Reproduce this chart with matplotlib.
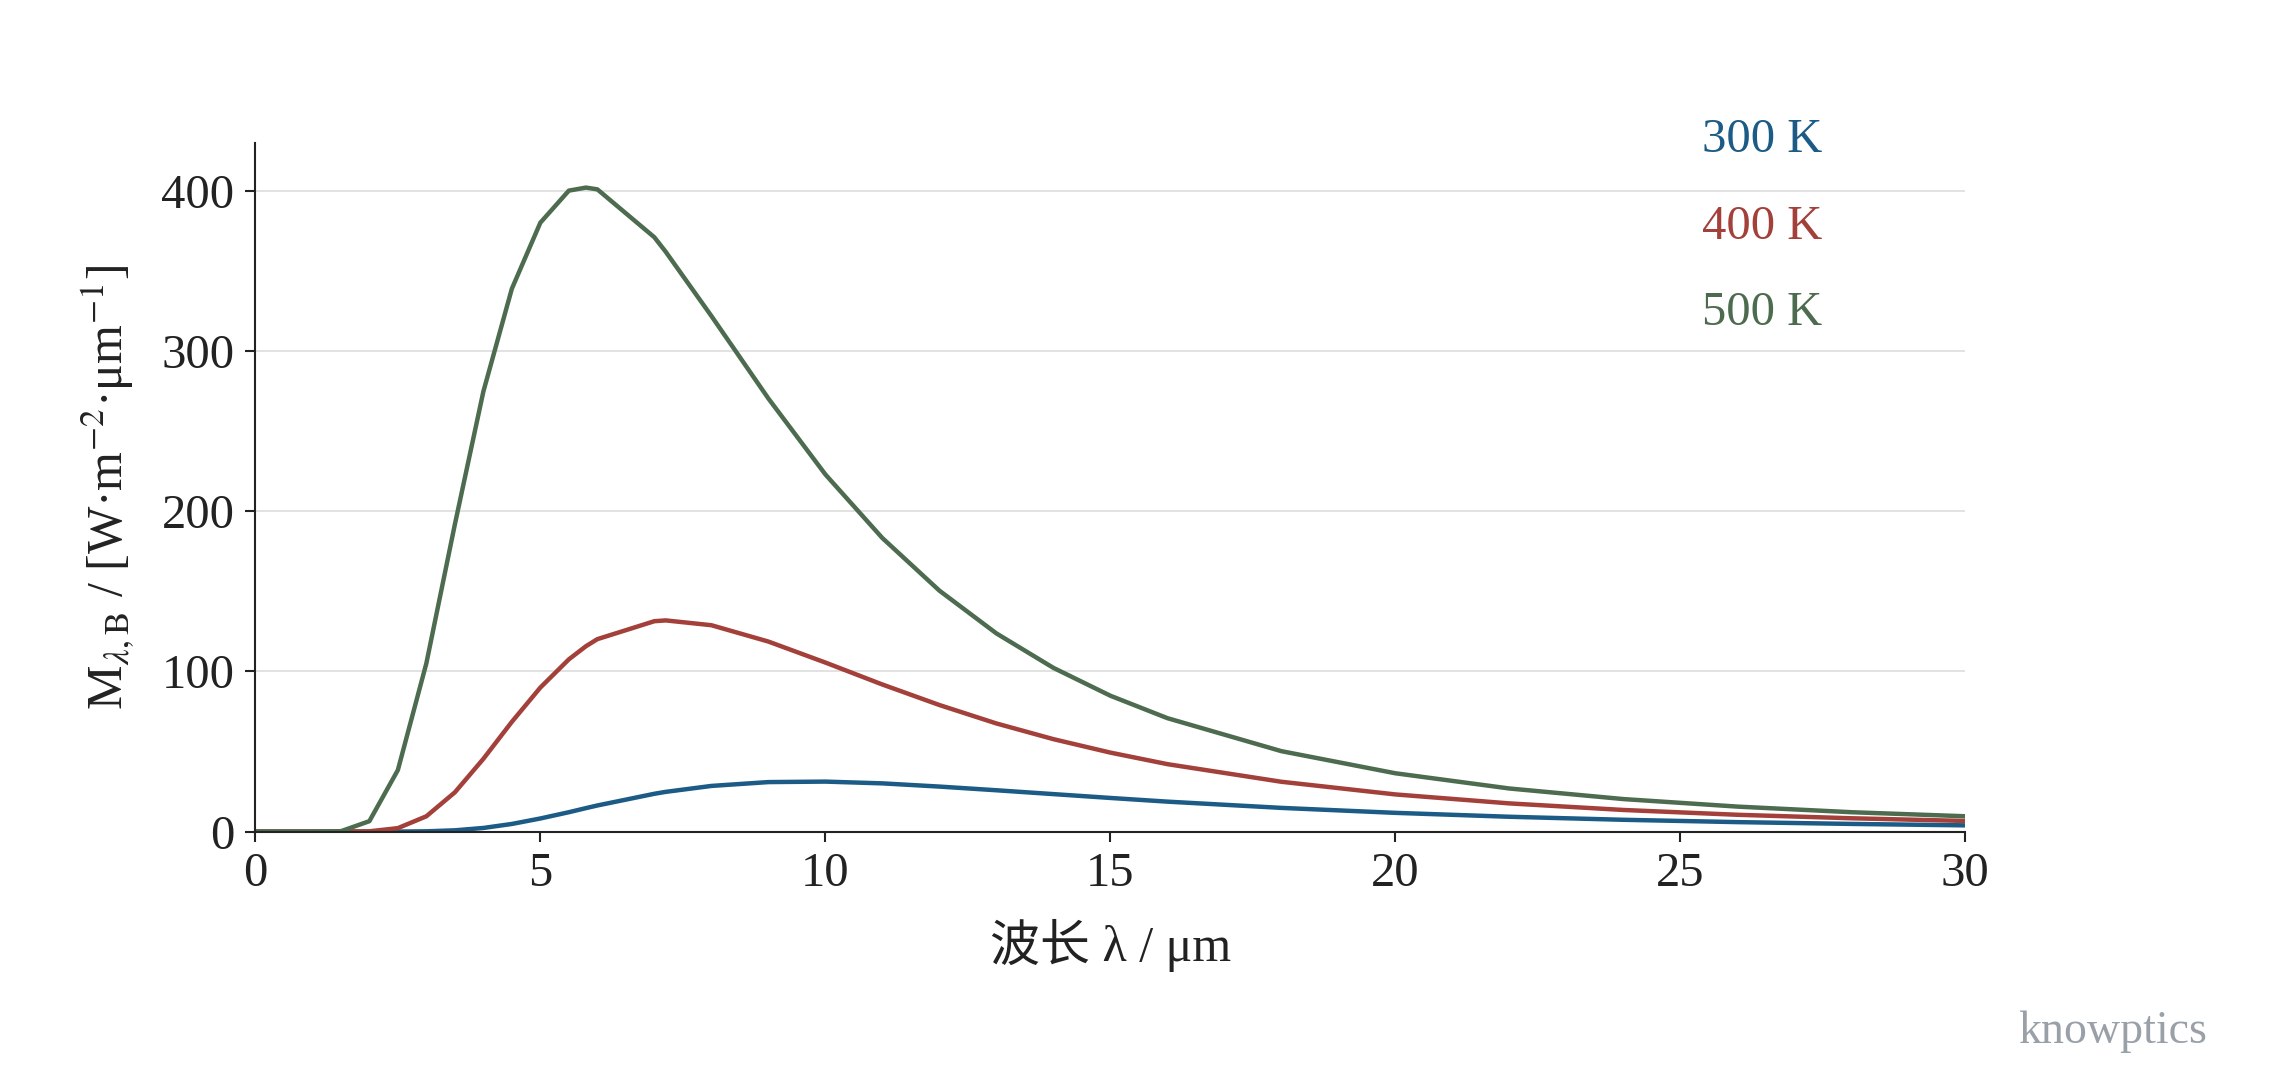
import matplotlib
matplotlib.use("Agg")
import matplotlib.pyplot as plt

wavelength = [0, 1, 1.5, 2, 2.5, 3, 3.5, 4, 4.5, 5, 5.5, 5.8, 6, 7, 7.2, 8, 9, 10, 11, 12, 13, 14, 15, 16, 18, 20, 22, 24, 26, 28, 30]
m_300K = [0, 0, 0, 0, 0.02, 0.18, 0.80, 2.27, 4.77, 8.19, 12.1, 14.65, 16.3, 23.6, 24.8, 28.5, 30.9, 31.2, 30.1, 28.1, 25.8, 23.4, 21.0, 18.7, 14.8, 11.7, 9.26, 7.37, 5.92, 4.79, 3.90]
m_400K = [0, 0, 0.002, 0.18, 2.16, 9.55, 24.5, 45.4, 68.5, 89.9, 107.5, 115.7, 120.1, 131.3, 131.8, 128.8, 118.6, 105.5, 91.8, 79.0, 67.5, 57.7, 49.3, 42.1, 31.1, 23.2, 17.6, 13.5, 10.5, 8.32, 6.65]
m_500K = [0, 0, 0.23, 6.5, 38.4, 105, 191.7, 274.6, 338.8, 380, 400, 401.9, 400.8, 370.9, 361.8, 321.8, 270.3, 222.9, 183.2, 150.4, 123.7, 102.2, 84.8, 70.8, 50.2, 36.4, 26.9, 20.3, 15.6, 12.1, 9.57]
series_labels = ["300 K", "400 K", "500 K"]
colors = ["#1b5b86", "#a3403a", "#4d6b4f"]
xticks = [0, 5, 10, 15, 20, 25, 30]
yticks = [0, 100, 200, 300, 400]

plt.rcParams['font.family'] = ['Liberation Serif', 'Noto Sans CJK SC']
plt.rcParams['mathtext.fontset'] = 'stix'

fig = plt.figure(figsize=(22.8, 10.8), dpi=100)
ax = fig.add_axes([0.112, 0.230, 0.750, 0.638])
for y, c in zip([m_300K, m_400K, m_500K], colors):
    ax.plot(wavelength, y, color=c, lw=3.2, solid_joinstyle='round')
ax.axhline(0, color='#999999', lw=1.2, zorder=0)
ax.set_xlim(0, 30)
ax.set_ylim(0, 430)
ax.set_xticks(xticks)
ax.set_yticks(yticks)
ax.yaxis.grid(True, color='#dddddd', lw=1.2)
ax.set_axisbelow(True)
for s in ['top', 'right']:
    ax.spines[s].set_visible(False)
for s in ['left', 'bottom']:
    ax.spines[s].set_color('#222222')
    ax.spines[s].set_linewidth(1.5)
ax.tick_params(labelsize=35, length=7, width=1.5, colors='#222222', pad=8)
ax.set_xlabel('波长 λ / μm', fontsize=36, labelpad=16, color='#222222')
ax.set_ylabel(r'M$_{\lambda\mathrm{,B}}$ / [W·m$^{-2}$·μm$^{-1}$]', fontsize=36, labelpad=18, color='#222222')

for i, (lab, c) in enumerate(zip(series_labels, colors)):
    ax.text(0.846, 1.035 - i * 0.125, lab, transform=ax.transAxes, color=c,
            fontsize=35, ha='left', va='top')
fig.text(0.968, 0.045, 'knowptics', color='#9aa0a8', fontsize=33, ha='right', va='center')
fig.savefig('out.png', dpi=100)
